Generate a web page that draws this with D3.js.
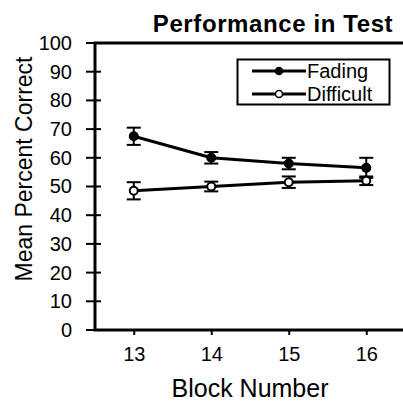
<!DOCTYPE html>
<html><head><meta charset="utf-8">
<script src="https://cdn.jsdelivr.net/npm/d3@7"></script>
<style>body{margin:0;background:#fff}svg{display:block}text{font-family:"Liberation Sans",Arial,sans-serif;fill:#000}</style>
</head><body><svg id="c" width="403" height="403"></svg>
<script>
const blocks = [13, 14, 15, 16];
const fadingMean = [67.5, 60, 58, 56.5];
const fadingErr = [3, 2, 2, 3.5];
const difficultMean = [48.5, 50, 51.5, 52];
const difficultErr = [3, 1.7, 2, 1.5];
const yTicks = [0, 10, 20, 30, 40, 50, 60, 70, 80, 90, 100];
const seriesNames = ["Fading", "Difficult"];

const svg = d3.select("#c");
const L = 95, T = 43, B = 330, R = 405;
const x = d3.scaleLinear().domain([12.5, 16.5]).range([L, R]);
const y = d3.scaleLinear().domain([0, 100]).range([B, T]);

const series = [
  {name: seriesNames[0], mean: fadingMean, err: fadingErr, fill: "#000"},
  {name: seriesNames[1], mean: difficultMean, err: difficultErr, fill: "#fff"}
];

// frame
svg.append("rect").attr("x", L).attr("y", T).attr("width", R - L).attr("height", B - T)
  .attr("fill", "none").attr("stroke", "#000").attr("stroke-width", 3);

// y axis
const yAx = svg.append("g").attr("transform", `translate(${L},0)`)
  .call(d3.axisLeft(y).tickValues(yTicks).tickSize(0).tickPadding(23));
yAx.select(".domain").remove();
yAx.selectAll("text").style("font-size", "20px").attr("fill", "#000");
svg.append("g").selectAll("line").data(yTicks).join("line")
  .attr("x1", L - 9).attr("x2", L + 6).attr("y1", d => y(d)).attr("y2", d => y(d))
  .attr("stroke", "#000").attr("stroke-width", 2);

// x axis
const xAx = svg.append("g").attr("transform", `translate(0,${B})`)
  .call(d3.axisBottom(x).tickValues(blocks).tickSize(5).tickPadding(12).tickFormat(d3.format("d")));
xAx.select(".domain").remove();
xAx.selectAll("line").attr("stroke-width", 2);
xAx.selectAll("text").style("font-size", "20px").attr("fill", "#000");

// lines
const line = d3.line().x((d, i) => x(blocks[i])).y(d => y(d));
series.forEach(s => {
  svg.append("path").datum(s.mean).attr("d", line).attr("fill", "none")
    .attr("stroke", "#000").attr("stroke-width", 3);
  const g = svg.append("g");
  s.mean.forEach((m, i) => {
    const cx = x(blocks[i]);
    g.append("line").attr("x1", cx).attr("x2", cx).attr("y1", y(m - s.err[i])).attr("y2", y(m + s.err[i]))
      .attr("stroke", "#000").attr("stroke-width", 2);
    [m - s.err[i], m + s.err[i]].forEach(v => {
      g.append("line").attr("x1", cx - 7).attr("x2", cx + 7).attr("y1", y(v)).attr("y2", y(v))
        .attr("stroke", "#000").attr("stroke-width", 2);
    });
  });
  svg.append("g").selectAll("circle").data(s.mean).join("circle")
    .attr("cx", (d, i) => x(blocks[i])).attr("cy", d => y(d)).attr("r", 4)
    .attr("fill", s.fill).attr("stroke", "#000").attr("stroke-width", 2);
});

// legend
svg.append("rect").attr("x", 237.5).attr("y", 59.5).attr("width", 152).attr("height", 45)
  .attr("fill", "#fff").attr("stroke", "#000").attr("stroke-width", 2);
series.forEach((s, i) => {
  const ly = 71 + i * 23;
  svg.append("line").attr("x1", 252).attr("x2", 306).attr("y1", ly).attr("y2", ly)
    .attr("stroke", "#000").attr("stroke-width", 3);
  svg.append("circle").attr("cx", 279).attr("cy", ly).attr("r", 3.5)
    .attr("fill", s.fill).attr("stroke", "#000").attr("stroke-width", 1.5);
  svg.append("text").attr("x", 307).attr("y", ly + 7).style("font-size", "20px").text(s.name);
});

// titles
svg.append("text").attr("x", 273).attr("y", 32).attr("text-anchor", "middle")
  .style("font-size", "24px").style("font-weight", "bold").style("letter-spacing", "0.6px")
  .text("Performance in Test");
svg.append("text").attr("x", 250).attr("y", 397).attr("text-anchor", "middle")
  .style("font-size", "25px").text("Block Number");
svg.append("text").attr("transform", "translate(32,169) rotate(-90)").attr("text-anchor", "middle")
  .style("font-size", "23px").text("Mean Percent Correct");
</script></body></html>
